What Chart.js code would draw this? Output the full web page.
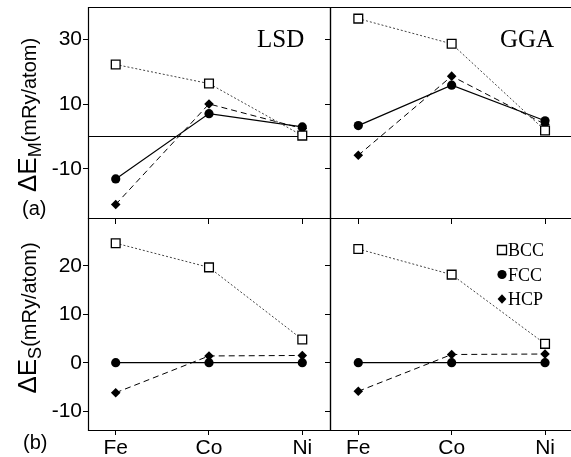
<!DOCTYPE html>
<html>
<head>
<meta charset="utf-8">
<script src="https://cdn.jsdelivr.net/npm/chart.js"></script>
<style>
  body { margin: 0; background: #fff; }
  #wrap { position: relative; width: 571px; height: 457px; overflow: hidden; }
  canvas { position: absolute; left: 0; top: 0; }
  .t { position: absolute; white-space: nowrap; color: #000; line-height: 1; }
  .sans { font-family: "Liberation Sans", Arial, sans-serif; }
  .serif { font-family: "Liberation Serif", "Times New Roman", serif; font-size: 25px; }
  .ytitle { transform: translate(-50%, -50%) rotate(-90deg); }
</style>
</head>
<body>
<div id="wrap">
  <canvas id="tl" width="571" height="457"></canvas>
  <canvas id="tr" width="571" height="457"></canvas>
  <canvas id="bl" width="571" height="457"></canvas>
  <canvas id="br" width="571" height="457"></canvas>

  <div class="t serif" style="left:257px; top:26px;">LSD</div>
  <div class="t serif" style="left:500px; top:26px;">GGA</div>

  <div class="t sans ytitle" style="left:27px; top:115px;"><span style="font-size:26px;">ΔE</span><span style="font-size:18px; position:relative; top:5px;">M</span><span style="font-size:20px;">(mRy/atom)</span></div>
  <div class="t sans ytitle" style="left:27px; top:318px;"><span style="font-size:26px;">ΔE</span><span style="font-size:18px; position:relative; top:5px;">S</span><span style="font-size:20px;">(mRy/atom)</span></div>
  <div class="t sans" style="left:22px; top:198px; font-size:20px;">(a)</div>
  <div class="t sans" style="left:23px; top:432px; font-size:20px;">(b)</div>
</div>

<script>
// data (mRy/atom)
const categories = ["Fe", "Co", "Ni"];
const seriesNames = ["BCC", "FCC", "HCP"];

const lsdM_bcc = [22.3, 16.4, 0.3];
const lsdM_fcc = [-13.1, 7.1, 3.0];
const lsdM_hcp = [-21.0, 10.1, 2.5];

const ggaM_bcc = [36.5, 28.7, 1.9];
const ggaM_fcc = [3.4, 15.9, 4.9];
const ggaM_hcp = [-5.8, 18.7, 3.8];

const lsdS_bcc = [24.7, 19.7, 4.8];
const lsdS_fcc = [0, 0, 0];
const lsdS_hcp = [-6.2, 1.4, 1.5];

const ggaS_bcc = [23.5, 18.2, 3.9];
const ggaS_fcc = [0, 0, 0];
const ggaS_hcp = [-5.9, 1.7, 1.8];

const ticksM = [-10, 0, 10, 30];
const ticksS = [-10, 0, 10, 20];

const W = 571, H = 457;
const tickFont = { family: "'Liberation Sans', Arial, sans-serif", size: 21 };

const looks = {
    BCC: { pointStyle: "rect", pointRadius: 6.2, pointBackgroundColor: "#fff", pointBorderColor: "#000",
           pointBorderWidth: 1.3, borderColor: "#444", borderWidth: 1, borderDash: [2, 2] },
    FCC: { pointStyle: "circle", pointRadius: 4.6, pointBackgroundColor: "#000", pointBorderColor: "#000",
           pointBorderWidth: 0, borderColor: "#000", borderWidth: 1.2, borderDash: [] },
    HCP: { pointStyle: "rectRot", pointRadius: 4.8, pointBackgroundColor: "#000", pointBorderColor: "#000",
           pointBorderWidth: 0, borderColor: "#000", borderWidth: 1, borderDash: [6, 4] }
};

// box round the plot area (no right edge when the panel runs off the page)
const frame = {
    id: "frame",
    afterDraw(chart) {
        const a = chart.chartArea, ctx = chart.ctx;
        const l = Math.round(a.left) + 0.5, t = Math.round(a.top) + 0.5;
        const r = Math.round(a.right) + 0.5, b = Math.round(a.bottom) + 0.5;
        ctx.save();
        ctx.strokeStyle = "#000";
        ctx.lineWidth = 1.2;
        ctx.beginPath();
        ctx.moveTo(r, t); ctx.lineTo(l, t); ctx.lineTo(l, b); ctx.lineTo(r, b);
        if (a.right < W - 1) { ctx.moveTo(r, t); ctx.lineTo(r, b); }
        ctx.stroke();
        ctx.restore();
    }
};

// legend inside the lower right panel
const legendBox = {
    id: "legendBox",
    afterDraw(chart) {
        const ctx = chart.ctx;
        const x = 502, ys = [250, 274.5, 299];
        ctx.save();
        ctx.font = "18px 'Liberation Serif', 'Times New Roman', serif";
        ctx.fillStyle = "#000";
        ctx.textBaseline = "alphabetic";
        seriesNames.forEach((name, i) => {
            const y = ys[i];
            ctx.beginPath();
            if (name === "BCC") {
                ctx.lineWidth = 1.3;
                ctx.strokeStyle = "#000";
                ctx.rect(x - 4.5, y - 4.5, 9, 9);
                ctx.stroke();
            } else if (name === "FCC") {
                ctx.arc(x, y, 4.6, 0, Math.PI * 2);
                ctx.fill();
            } else {
                ctx.moveTo(x, y - 4.8); ctx.lineTo(x + 4.4, y); ctx.lineTo(x, y + 4.8); ctx.lineTo(x - 4.4, y);
                ctx.closePath();
                ctx.fill();
            }
            ctx.fillText(name, 508, y + 6);
        });
        ctx.restore();
    }
};

function noPad(s) {
    s.paddingTop = 0; s.paddingBottom = 0; s.paddingLeft = 0; s.paddingRight = 0;
}

function panel(id, area, xMin, xMax, yMin, yMax, yTicks, leftSide, bottomRow, zeroLine, bcc, fcc, hcp, extra) {
    const vals = { BCC: bcc, FCC: fcc, HCP: hcp };
    const yAxisW = leftSide ? area.l : 6;
    const xAxisH = bottomRow ? H - area.b : 6;
    new Chart(document.getElementById(id), {
        type: "line",
        data: {
            datasets: seriesNames.map(name => Object.assign({
                label: name,
                data: vals[name].map((v, i) => ({ x: i, y: v })),
                fill: false,
                tension: 0
            }, looks[name]))
        },
        options: {
            responsive: false,
            animation: false,
            devicePixelRatio: 1,
            layout: {
                autoPadding: false,
                padding: { left: area.l - yAxisW, right: W - area.r, top: area.t, bottom: H - area.b - xAxisH }
            },
            plugins: { legend: { display: false }, tooltip: { enabled: false } },
            scales: {
                x: {
                    type: "linear", min: xMin, max: xMax,
                    afterBuildTicks: s => { s.ticks = categories.map((c, i) => ({ value: i })); },
                    afterFit: s => { s.height = xAxisH; noPad(s); },
                    border: { display: false },
                    grid: { drawOnChartArea: false, drawTicks: true, tickLength: bottomRow ? 5 : 6, tickColor: "#000", lineWidth: 1 },
                    ticks: { display: bottomRow, color: "#000", font: tickFont, padding: 1,
                             maxRotation: 0, callback: v => categories[v] }
                },
                y: {
                    type: "linear", min: yMin, max: yMax,
                    afterBuildTicks: s => { s.ticks = yTicks.map(v => ({ value: v })); },
                    afterFit: s => { s.width = yAxisW; noPad(s); },
                    border: { display: false },
                    grid: {
                        drawOnChartArea: zeroLine,
                        drawTicks: true,
                        tickLength: 5,
                        lineWidth: 1,
                        color: c => (zeroLine && c.tick && c.tick.value === 0) ? "#000" : "rgba(0,0,0,0)",
                        tickColor: c => (zeroLine && c.tick && c.tick.value === 0) ? "rgba(0,0,0,0)" : "#000"
                    },
                    ticks: { display: leftSide, color: "#000", font: tickFont, padding: 1,
                             callback: v => (zeroLine && v === 0) ? "" : String(v) }
                }
            }
        },
        plugins: [frame].concat(extra || [])
    });
}

const topArea = { t: 7, b: 218 };
const botArea = { t: 218, b: 430 };

panel("tl", { l: 88, r: 330, t: topArea.t, b: topArea.b }, -0.297, 2.297, -25.2, 40.1, ticksM, true, false, true,
      lsdM_bcc, lsdM_fcc, lsdM_hcp);
panel("tr", { l: 330, r: 571, t: topArea.t, b: topArea.b }, -0.303, 2.278, -25.2, 40.1, ticksM, false, false, true,
      ggaM_bcc, ggaM_fcc, ggaM_hcp);
panel("bl", { l: 88, r: 330, t: botArea.t, b: botArea.b }, -0.297, 2.297, -13.9, 29.9, ticksS, true, true, false,
      lsdS_bcc, lsdS_fcc, lsdS_hcp);
panel("br", { l: 330, r: 571, t: botArea.t, b: botArea.b }, -0.303, 2.278, -13.9, 29.9, ticksS, false, true, false,
      ggaS_bcc, ggaS_fcc, ggaS_hcp, [legendBox]);
</script>
</body>
</html>
